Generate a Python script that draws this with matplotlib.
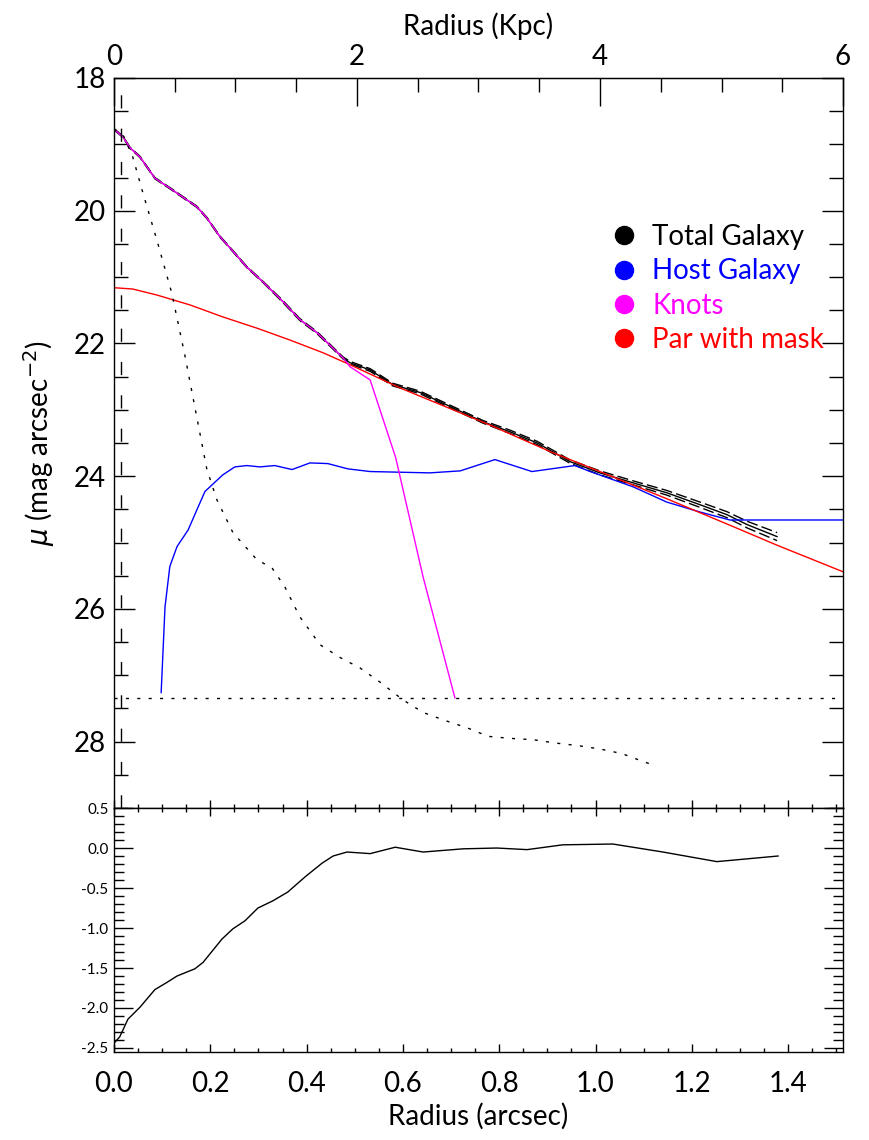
import numpy as np
import matplotlib.pyplot as plt
from matplotlib.lines import Line2D
from matplotlib.ticker import MultipleLocator, FixedLocator

plt.rcParams['font.family'] = ['Lato', 'DejaVu Sans']
plt.rcParams['mathtext.fontset'] = 'dejavusans'

kpc_per_arcsec = 3.963
sky_level = 27.34
inner_cut = 0.015

# total galaxy profile (with upper/lower error)
r_total = [0.0, 0.019, 0.033, 0.054, 0.085, 0.116, 0.152, 0.172, 0.193, 0.220,
           0.241, 0.276, 0.309, 0.351, 0.386, 0.422, 0.476, 0.490, 0.532, 0.579,
           0.636, 0.698, 0.766, 0.822, 0.879, 0.947, 1.009, 1.078, 1.148, 1.217,
           1.273, 1.315, 1.377]
mu_total = [18.77, 18.89, 19.05, 19.19, 19.51, 19.66, 19.84, 19.94, 20.11, 20.39,
            20.56, 20.85, 21.07, 21.37, 21.64, 21.84, 22.22, 22.29, 22.40, 22.62,
            22.74, 22.95, 23.18, 23.33, 23.50, 23.78, 23.95, 24.10, 24.25, 24.43,
            24.58, 24.73, 24.91]
err_total = [0.01, 0.01, 0.01, 0.01, 0.01, 0.01, 0.01, 0.01, 0.01, 0.01,
             0.01, 0.01, 0.01, 0.015, 0.015, 0.015, 0.015, 0.02, 0.02, 0.02,
             0.02, 0.02, 0.02, 0.025, 0.025, 0.025, 0.03, 0.03, 0.035, 0.04,
             0.045, 0.05, 0.06]

# host galaxy
r_host = [0.098, 0.106, 0.116, 0.131, 0.154, 0.172, 0.189, 0.226, 0.251, 0.276,
          0.303, 0.334, 0.370, 0.407, 0.444, 0.486, 0.532, 0.656, 0.719, 0.791,
          0.868, 0.957, 0.989, 1.078, 1.148, 1.217, 1.279, 1.514]
mu_host = [27.26, 25.97, 25.36, 25.06, 24.81, 24.51, 24.23, 23.98, 23.86, 23.84,
           23.86, 23.84, 23.90, 23.80, 23.81, 23.89, 23.93, 23.95, 23.92, 23.75,
           23.93, 23.84, 23.93, 24.16, 24.39, 24.54, 24.66, 24.66]

# knots
r_knots = [0.0, 0.019, 0.033, 0.054, 0.085, 0.116, 0.152, 0.172, 0.193, 0.220,
           0.241, 0.276, 0.309, 0.351, 0.386, 0.422, 0.476, 0.490, 0.532, 0.585,
           0.642, 0.708]
mu_knots = [18.77, 18.89, 19.05, 19.19, 19.51, 19.66, 19.84, 19.94, 20.11, 20.39,
            20.56, 20.85, 21.07, 21.37, 21.64, 21.84, 22.22, 22.35, 22.55, 23.72,
            25.52, 27.34]

# parametric fit with mask
r_fit = [0.0, 0.039, 0.089, 0.158, 0.226, 0.297, 0.366, 0.434, 0.490, 0.594,
         0.781, 0.906, 1.009, 1.148, 1.286, 1.377, 1.514]
mu_fit = [21.16, 21.18, 21.27, 21.42, 21.60, 21.77, 21.95, 22.14, 22.32, 22.67,
          23.23, 23.63, 23.93, 24.34, 24.76, 25.04, 25.44]

# PSF profile
r_psf = [0.0, 0.019, 0.039, 0.060, 0.089, 0.120, 0.147, 0.193, 0.214, 0.247,
         0.297, 0.328, 0.355, 0.386, 0.428, 0.469, 0.511, 0.552, 0.600, 0.642,
         0.687, 0.733, 0.777, 0.822, 0.870, 0.916, 0.964, 1.009, 1.055, 1.099,
         1.124]
mu_psf = [18.77, 18.86, 19.19, 19.73, 20.44, 21.24, 22.17, 23.90, 24.36, 24.85,
          25.26, 25.38, 25.67, 26.12, 26.54, 26.73, 26.89, 27.10, 27.37, 27.56,
          27.68, 27.79, 27.92, 27.95, 27.97, 28.02, 28.06, 28.11, 28.18, 28.30,
          28.36]

# residual: total minus fit
r_res = [0.0, 0.012, 0.029, 0.054, 0.085, 0.110, 0.131, 0.168, 0.185, 0.224,
         0.247, 0.272, 0.299, 0.330, 0.361, 0.397, 0.432, 0.455, 0.484, 0.532,
         0.584, 0.642, 0.725, 0.795, 0.858, 0.932, 1.036, 1.140, 1.252, 1.379]
d_res = [-2.44, -2.36, -2.14, -1.99, -1.77, -1.68, -1.60, -1.51, -1.43, -1.14,
         -1.01, -0.91, -0.75, -0.66, -0.55, -0.36, -0.19, -0.10, -0.05, -0.07,
         0.01, -0.05, -0.01, 0.00, -0.02, 0.04, 0.05, -0.05, -0.17, -0.10]

labels = ['Total Galaxy', 'Host Galaxy', 'Knots', 'Par with mask']
colors = ['black', 'blue', 'magenta', 'red']
kpc_ticks = [0, 2, 4, 6]

xmax = 6 / kpc_per_arcsec

fig = plt.figure(figsize=(8.7, 11.4), dpi=100)
ax = fig.add_axes([0.131, 0.2912, 0.838, 0.6404])
axr = fig.add_axes([0.131, 0.0772, 0.838, 0.2140])

lw = 1.0
mu_total = np.array(mu_total)
err_total = np.array(err_total)
ax.plot(r_total, mu_total, color='black', lw=lw)
ax.plot(r_total, mu_total - err_total, color='black', lw=lw, ls=(0, (8, 3)))
ax.plot(r_total, mu_total + err_total, color='black', lw=lw, ls=(0, (8, 3)))
ax.plot(r_host, mu_host, color='blue', lw=lw)
ax.plot(r_fit, mu_fit, color='red', lw=lw)
ax.plot(r_knots, mu_knots, color='magenta', lw=lw)
ax.plot(r_psf, mu_psf, color='black', lw=lw, ls=(0, (2.2, 6)))
ax.axhline(sky_level, color='black', lw=lw, ls=(0, (2.2, 6)))
ax.axvline(inner_cut, color='black', lw=lw, ls=(0, (9.5, 14.5)))

ax.set_xlim(0, xmax)
ax.set_ylim(29, 18)

# shared tick style
for a in (ax, axr):
    for sp in a.spines.values():
        sp.set_linewidth(1.0)
    a.tick_params(which='both', direction='in', top=True, right=True, width=1.0)

ax.xaxis.set_major_locator(MultipleLocator(0.2))
ax.xaxis.set_minor_locator(MultipleLocator(0.05))
ax.yaxis.set_major_locator(MultipleLocator(2))
ax.yaxis.set_minor_locator(MultipleLocator(0.5))
ax.tick_params(axis='x', which='major', length=6, labelbottom=False, top=False)
ax.tick_params(axis='x', which='minor', length=3, top=False)
ax.tick_params(axis='y', which='major', length=15, labelsize=20, pad=6)
ax.tick_params(axis='y', which='minor', length=10)
ax.set_ylabel(r'$\mu$ (mag arcsec$^{-2}$)', fontsize=20, labelpad=12)

sec = ax.secondary_xaxis('top', functions=(lambda a: a * kpc_per_arcsec,
                                           lambda k: k / kpc_per_arcsec))
sec.xaxis.set_major_locator(FixedLocator(kpc_ticks))
sec.xaxis.set_minor_locator(FixedLocator(np.arange(0.5, 6, 0.5)))
sec.tick_params(which='major', direction='in', length=20, width=1.0, labelsize=20, pad=6)
sec.tick_params(which='minor', direction='in', length=10, width=1.0)
sec.set_xlabel('Radius (Kpc)', fontsize=20, labelpad=6)

handles = [Line2D([], [], marker='o', ls='none', color=c, markersize=13) for c in colors]
leg = ax.legend(handles, labels, loc='upper left', bbox_to_anchor=(0.685, 0.80),
                frameon=False, fontsize=20, handlelength=0.8, handletextpad=0.6,
                labelspacing=0.3, borderpad=0, borderaxespad=0, labelcolor=colors)

# residual panel
axr.plot(r_res, d_res, color='black', lw=lw)
axr.set_xlim(0, xmax)
axr.set_ylim(-2.55, 0.5)
axr.xaxis.set_major_locator(MultipleLocator(0.2))
axr.xaxis.set_minor_locator(MultipleLocator(0.05))
axr.yaxis.set_major_locator(MultipleLocator(0.5))
axr.yaxis.set_minor_locator(MultipleLocator(0.1))
axr.xaxis.set_major_formatter(plt.FormatStrFormatter('%.1f'))
axr.yaxis.set_major_formatter(plt.FormatStrFormatter('%.1f'))
axr.tick_params(axis='x', which='major', length=6, labelsize=20, pad=14)
axr.tick_params(axis='x', which='minor', length=3)
axr.tick_params(axis='y', which='major', length=14, labelsize=11, pad=4)
axr.tick_params(axis='y', which='minor', length=7)
axr.set_xlabel('Radius (arcsec)', fontsize=20, labelpad=4)

fig.savefig('out.png', dpi=100)
